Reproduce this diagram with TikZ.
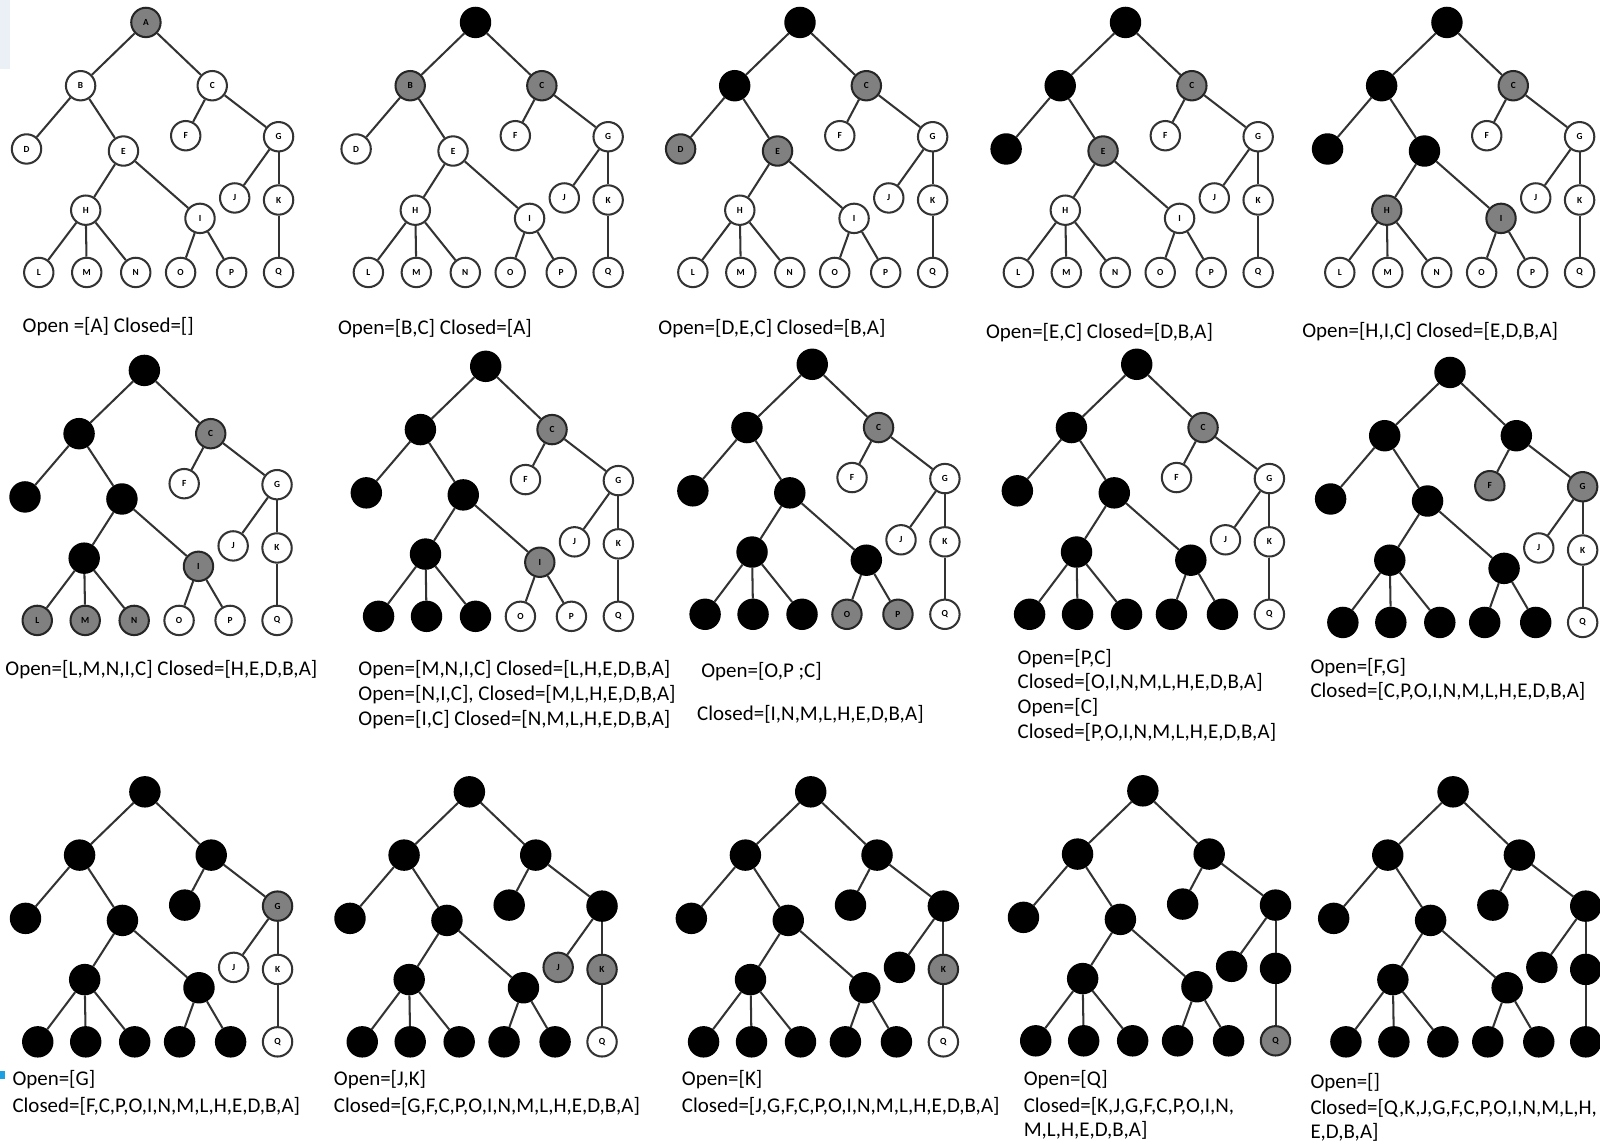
\documentclass[tikz,border=0pt]{standalone}
\usepackage{fontspec}
\setmainfont{Carlito}
\usepackage{xstring}

\definecolor{edgegray}{HTML}{333333}
\definecolor{opengray}{HTML}{808080}
\definecolor{paleblue}{HTML}{EAF0F6}
\definecolor{markcyan}{HTML}{1BA1E2}

\tikzset{
  freshnode/.style={circle,draw=edgegray,fill=white,line width=0.5mm,minimum size=7.2mm,inner sep=0pt,
    font=\fontsize{6.5}{7}\selectfont\bfseries},
  opennode/.style={freshnode,fill=opengray,draw=black!85},
  closednode/.style={freshnode,fill=black,draw=black},
  link/.style={draw=edgegray,line width=0.5mm},
  caption/.style={anchor=west,inner sep=0pt,font=\fontsize{14.6}{17}\selectfont}
}

% #1 prefix, #2/#3 root position, #4 closed nodes, #5 open nodes
\newcommand{\searchtree}[5]{%
  \begin{scope}[shift={(#2,#3)}]
    \foreach \n/\nx/\ny in {A/0/0,B/-64/62,C/65/62,D/-117/124,E/-22/126,F/39/111,G/130/112,
        H/-59/184,I/53/192,J/87/172,K/130/174,L/-105/245,M/-58/245,N/-10/245,O/34/245,P/84/245,Q/130/245}{
      \IfSubStr{#4}{\n}{\def\st{closednode}}{\IfSubStr{#5}{\n}{\def\st{opennode}}{\def\st{freshnode}}}
      \node[\st] (#1\n) at (\nx,\ny) {\n};
    }
    \foreach \u/\v in {A/B,A/C,B/D,B/E,C/F,C/G,E/H,E/I,H/L,H/M,H/N,I/O,I/P,G/J,G/K,K/Q}
      \draw[link] (#1\u) -- (#1\v);
  \end{scope}
}

\begin{document}
\begin{tikzpicture}[x=0.25mm,y=-0.25mm]
    \useasboundingbox (0,0) rectangle (1568,1121);
    \clip (0,0) rectangle (1568,1121);
    \fill[paleblue] (0,0) rectangle (10,68);
    \fill[markcyan] (0,1050) rectangle (5,1057);

    % first row
    \searchtree{a}{143}{22}{}{A}
    \searchtree{b}{466}{22}{A}{BC}
    \searchtree{c}{784}{22}{AB}{DEC}
    \searchtree{d}{1103}{22}{ABD}{EC}
    \searchtree{e}{1418}{22}{ABDE}{HIC}

    % second row
    \searchtree{f}{141.5}{363}{ABDEH}{LMNIC}
    \searchtree{g}{476}{359}{ABDEHLMN}{IC}
    \searchtree{h}{796}{357}{ABDEHLMNI}{OPC}
    \searchtree{i}{1114}{357}{ABDEHLMNIOP}{C}
    \searchtree{j}{1421}{365}{ABDEHLMNIOPC}{FG}

    % third row
    \searchtree{k}{142}{776}{ABDEHLMNIOPCF}{G}
    \searchtree{l}{460}{776}{ABDEHLMNIOPCFG}{JK}
    \searchtree{m}{794.5}{776}{ABDEHLMNIOPCFGJ}{K}
    \searchtree{n}{1120}{775}{ABDEHLMNIOPCFGJK}{Q}
    \searchtree{o}{1424}{776}{ABDEHLMNIOPCFGJKQ}{}

    \node[caption] (capa) at (22,320) {Open =[A] Closed=[]};
    \node[caption] (capb) at (331,322) {Open=[B,C] Closed=[A]};
    \node[caption] (capc) at (645,322) {Open=[D,E,C] Closed=[B,A]};
    \node[caption] (capd) at (966,326) {Open=[E,C] Closed=[D,B,A]};
    \node[caption] (cape) at (1276,325) {Open=[H,I,C] Closed=[E,D,B,A]};

    \node[caption] (capf) at (5,656) {Open=[L,M,N,I,C] Closed=[H,E,D,B,A]};
    \node[caption] (capg1) at (351,656) {Open=[M,N,I,C] Closed=[L,H,E,D,B,A]};
    \node[caption] (capg2) at (351,681) {Open=[N,I,C], Closed=[M,L,H,E,D,B,A]};
    \node[caption] (capg3) at (351,705) {Open=[I,C] Closed=[N,M,L,H,E,D,B,A]};
    \node[caption] (caph1) at (687,658) {Open=[O,P ;C]};
    \node[caption] (caph2) at (683,700) {Closed=[I,N,M,L,H,E,D,B,A]};
    \node[caption] (capi1) at (997,645) {Open=[P,C]};
    \node[caption] (capi2) at (997,669) {Closed=[O,I,N,M,L,H,E,D,B,A]};
    \node[caption] (capi3) at (997,693) {Open=[C]};
    \node[caption] (capi4) at (997,718) {Closed=[P,O,I,N,M,L,H,E,D,B,A]};
    \node[caption] (capj1) at (1284,654) {Open=[F,G]};
    \node[caption] (capj2) at (1284,678) {Closed=[C,P,O,I,N,M,L,H,E,D,B,A]};

    \node[caption] (capk1) at (12,1058) {Open=[G]};
    \node[caption] (capk2) at (12,1084) {Closed=[F,C,P,O,I,N,M,L,H,E,D,B,A]};
    \node[caption] (capl1) at (327,1058) {Open=[J,K]};
    \node[caption] (capl2) at (327,1084) {Closed=[G,F,C,P,O,I,N,M,L,H,E,D,B,A]};
    \node[caption] (capm1) at (668,1058) {Open=[K]};
    \node[caption] (capm2) at (668,1084) {Closed=[J,G,F,C,P,O,I,N,M,L,H,E,D,B,A]};
    \node[caption] (capn1) at (1003,1058) {Open=[Q]};
    \node[caption] (capn2) at (1003,1084) {Closed=[K,J,G,F,C,P,O,I,N,};
    \node[caption] (capn3) at (1003,1108) {M,L,H,E,D,B,A]};
    \node[caption] (capo1) at (1284,1061) {Open=[]};
    \node[caption] (capo2) at (1284,1086) {Closed=[Q,K,J,G,F,C,P,O,I,N,M,L,H,};
    \node[caption] (capo3) at (1284,1110) {E,D,B,A]};
\end{tikzpicture}
\end{document}
